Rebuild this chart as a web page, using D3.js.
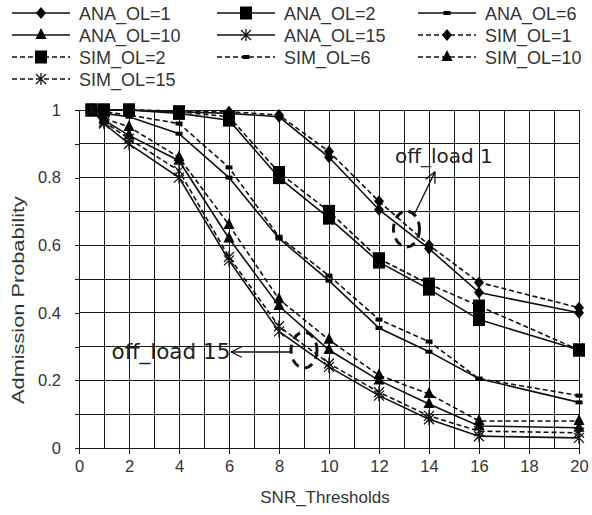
<!DOCTYPE html>
<html>
<head>
<script src="https://cdn.jsdelivr.net/npm/d3@7"></script>
<style>
  html, body { margin: 0; padding: 0; background: #fff; }
  svg { display: block; }
  text { font-family: "Liberation Sans", Arial, sans-serif; fill: #333; }
  .note { font-family: "DejaVu Sans", Verdana, sans-serif; fill: #222; }
</style>
</head>
<body>
<script>
// SNR thresholds (x values)
var snr = [0.5, 1, 2, 4, 6, 8, 10, 12, 14, 16, 20];

// admission probability, analytical vs simulated, per off-load
var anaOL1  = [1, 1, 1, 0.995, 0.99, 0.98, 0.86, 0.705, 0.59, 0.46, 0.40];
var anaOL2  = [1, 1, 1, 0.99, 0.97, 0.80, 0.68, 0.55, 0.47, 0.38, 0.29];
var anaOL6  = [1, 0.99, 0.98, 0.93, 0.80, 0.62, 0.495, 0.355, 0.285, 0.205, 0.135];
var anaOL10 = [1, 0.97, 0.925, 0.85, 0.62, 0.42, 0.29, 0.20, 0.13, 0.065, 0.06];
var anaOL15 = [1, 0.96, 0.90, 0.80, 0.555, 0.345, 0.24, 0.155, 0.085, 0.035, 0.03];
var simOL1  = [1, 1, 1, 0.997, 0.995, 0.985, 0.877, 0.73, 0.60, 0.49, 0.415];
var simOL2  = [1, 1, 1, 0.995, 0.98, 0.815, 0.70, 0.56, 0.485, 0.42, 0.29];
var simOL6  = [1, 0.995, 0.985, 0.96, 0.83, 0.625, 0.51, 0.38, 0.315, 0.205, 0.155];
var simOL10 = [1, 0.975, 0.95, 0.86, 0.66, 0.44, 0.32, 0.215, 0.16, 0.08, 0.08];
var simOL15 = [1, 0.965, 0.915, 0.82, 0.565, 0.36, 0.25, 0.165, 0.095, 0.05, 0.045];

var seriesNames = ["ANA_OL=1", "ANA_OL=2", "ANA_OL=6", "ANA_OL=10", "ANA_OL=15",
                   "SIM_OL=1", "SIM_OL=2", "SIM_OL=6", "SIM_OL=10", "SIM_OL=15"];
var seriesValues = [anaOL1, anaOL2, anaOL6, anaOL10, anaOL15,
                    simOL1, simOL2, simOL6, simOL10, simOL15];
var markerKinds = ["diamond", "square", "dash", "triangle", "asterisk"];

var xTicks = [0, 2, 4, 6, 8, 10, 12, 14, 16, 18, 20];
var yTicks = [0, 0.1, 0.2, 0.3, 0.4, 0.5, 0.6, 0.7, 0.8, 0.9, 1];

var W = 592, H = 515;
var svg = d3.select("body").append("svg").attr("width", W).attr("height", H);

var x = d3.scaleLinear().domain([0, 20]).range([79, 579]);
var y = d3.scaleLinear().domain([0, 1]).range([448, 110]);

// grid
var grid = svg.append("g").attr("stroke", "#1a1a1a").attr("stroke-width", 1).attr("shape-rendering", "crispEdges");
grid.selectAll(".vg").data(d3.range(1, 21)).enter().append("line")
    .attr("x1", function (d) { return x(d); }).attr("x2", function (d) { return x(d); })
    .attr("y1", y(0)).attr("y2", y(1));
grid.selectAll(".hg").data(yTicks.slice(1)).enter().append("line")
    .attr("x1", x(0)).attr("x2", x(20))
    .attr("y1", function (d) { return y(d); }).attr("y2", function (d) { return y(d); });

// axes
var xAxis = svg.append("g").attr("transform", "translate(0," + y(0) + ")")
    .call(d3.axisBottom(x).tickValues(xTicks).tickSizeInner(6).tickSizeOuter(0).tickPadding(6));
var yAxis = svg.append("g").attr("transform", "translate(" + x(0) + ",0)")
    .call(d3.axisLeft(y).tickValues(yTicks).tickSizeInner(4).tickSizeOuter(0).tickPadding(14)
        .tickFormat(function (d, i) { return i % 2 === 0 ? d3.format("~g")(d) : ""; }));
[xAxis, yAxis].forEach(function (a) {
    a.selectAll("path, line").attr("stroke", "#1a1a1a").attr("shape-rendering", "crispEdges");
    a.selectAll("text").attr("font-size", 16.5).attr("fill", "#444")
        .attr("font-family", "Liberation Sans, Arial, sans-serif");
});

svg.append("text").attr("x", 325).attr("y", 503).attr("text-anchor", "middle")
    .attr("font-size", 17).text("SNR_Thresholds");
// the y title is stretched along its length, as in the source picture
svg.append("text").attr("transform", "translate(24,300) rotate(-90) scale(1.28,1)").attr("text-anchor", "middle")
    .attr("font-size", 17).text("Admission Probability");

// marker drawing
function drawMarker(g, kind) {
    if (kind === "diamond") {
        g.append("path").attr("d", "M0,-6L5,0L0,6L-5,0Z").attr("fill", "#000");
    } else if (kind === "square") {
        g.append("rect").attr("x", -6).attr("y", -6.5).attr("width", 12).attr("height", 13).attr("fill", "#000");
    } else if (kind === "dash") {
        g.append("rect").attr("x", -3.5).attr("y", -2).attr("width", 7).attr("height", 4).attr("fill", "#000");
    } else if (kind === "triangle") {
        g.append("path").attr("d", "M0,-7L5.5,4L-5.5,4Z").attr("fill", "#000");
    } else {
        g.append("path").attr("d", "M-5,-5L5,5M-5,5L5,-5M0,-6L0,6")
            .attr("stroke", "#111").attr("stroke-width", 1.3).attr("fill", "none");
    }
}

var line = d3.line()
    .x(function (d) { return x(d[0]); })
    .y(function (d) { return y(d[1]); });

var plot = svg.append("g");
seriesValues.forEach(function (vals, i) {
    var dashed = i >= 5;
    var pts = snr.map(function (s, j) { return [s, vals[j]]; });
    plot.append("path").datum(pts).attr("d", line)
        .attr("fill", "none").attr("stroke", "#111").attr("stroke-width", 1.6)
        .attr("stroke-dasharray", dashed ? "5,3" : null);
    pts.forEach(function (p) {
        var g = plot.append("g").attr("transform", "translate(" + x(p[0]) + "," + y(p[1]) + ")");
        drawMarker(g, markerKinds[i % 5]);
    });
});

// legend
var legCols = [12, 217, 418];
var legRows = [13, 35, 57, 79];
seriesNames.forEach(function (name, i) {
    var cx = legCols[i % 3], cy = legRows[Math.floor(i / 3)];
    var g = svg.append("g").attr("transform", "translate(" + cx + "," + cy + ")");
    g.append("line").attr("x1", 0).attr("x2", 58).attr("y1", 0).attr("y2", 0)
        .attr("stroke", "#111").attr("stroke-width", 1.6)
        .attr("stroke-dasharray", i >= 5 ? "5,3" : null);
    var m = g.append("g").attr("transform", "translate(29,0)");
    drawMarker(m, markerKinds[i % 5]);
    g.append("text").attr("x", 67).attr("y", 6.5).attr("font-size", 18).attr("fill", "#222").text(name);
});

// annotations (data coordinates)
var notes = [
    { label: "off_load 1", size: 20, tx: 12.64, ty: 0.843, ex: 13.1, ey: 0.648, ax1: 13.44, ay1: 0.695, ax2: 14.24, ay2: 0.817 },
    { label: "off_load 15", size: 21.5, tx: 1.3, ty: 0.262, ex: 9.0, ey: 0.29, ax1: 8.44, ay1: 0.284, ax2: 6.08, ay2: 0.284 }
];
notes.forEach(function (n) {
    svg.append("ellipse").attr("cx", x(n.ex)).attr("cy", y(n.ey)).attr("rx", 13).attr("ry", 18)
        .attr("fill", "none").attr("stroke", "#111").attr("stroke-width", 3).attr("stroke-dasharray", "9,6");
    var x1 = x(n.ax1), y1 = y(n.ay1), x2 = x(n.ax2), y2 = y(n.ay2);
    svg.append("line").attr("x1", x1).attr("y1", y1).attr("x2", x2).attr("y2", y2)
        .attr("stroke", "#111").attr("stroke-width", 1.3);
    var ang = Math.atan2(y2 - y1, x2 - x1), len = 12, spread = 0.45;
    [ang + Math.PI - spread, ang + Math.PI + spread].forEach(function (a) {
        svg.append("line").attr("x1", x2).attr("y1", y2)
            .attr("x2", x2 + len * Math.cos(a)).attr("y2", y2 + len * Math.sin(a))
            .attr("stroke", "#111").attr("stroke-width", 1.3);
    });
    svg.append("text").attr("class", "note").attr("x", x(n.tx)).attr("y", y(n.ty))
        .attr("font-size", n.size).text(n.label);
});
</script>
</body>
</html>
